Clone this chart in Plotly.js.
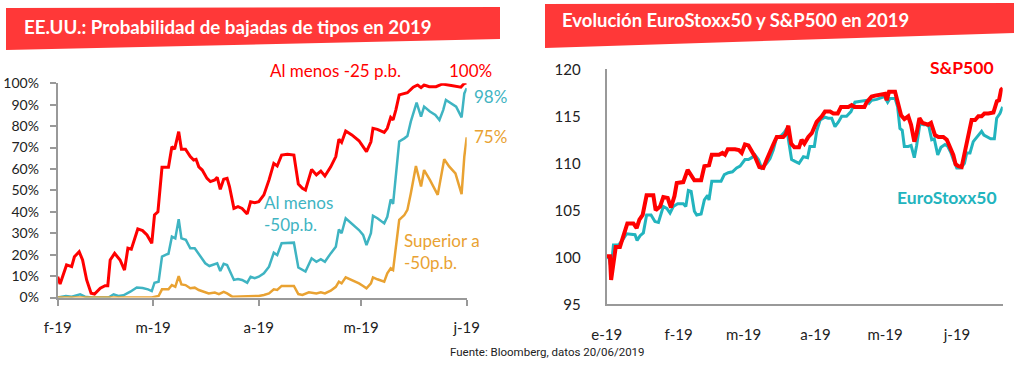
<!DOCTYPE html>
<html><head><meta charset="utf-8">
<script src="https://cdn.plot.ly/plotly-3.0.1.min.js"></script>
<style>html,body{margin:0;padding:0;background:#fff}#chart{width:1024px;height:366px}</style>
</head><body><div id="chart"></div>
<script>
// ---- Left chart: probability of Fed cuts (days since 1 Feb 2019) ----
const leftTickVals = [0, 28, 59, 89, 120];
const leftTickText = ['f-19', 'm-19', 'a-19', 'm-19', 'j-19'];
const leftYTicks = [0,10,20,30,40,50,60,70,80,90,100];
const leftYTickText = ['0%','10%','20%','30%','40%','50%','60%','70%','80%','90%','100%'];

const cut25Days = [0,0.7,2.6,4.1,4.9,6.3,7.3,8.5,9.8,10.8,12.5,13.9,14.7,15.4,16.7,18.3,19.6,20.6,21.6,23.5,24.9,26.2,27.6,28.4,29.4,30.6,32.5,33.5,34.3,35.5,36.3,37.5,38.9,39.9,40.6,41.4,42.4,43.8,44.8,46.1,46.8,47.7,48.7,49.7,50.4,51.7,52.9,54.1,55.6,56.6,57.8,59,60.5,62,63.4,64.4,65.7,67.4,69.3,70.6,71.8,72.7,74.5,75.9,77.2,78.4,80.1,81.6,82.5,83.3,84.5,86.3,88.4,89.6,90.6,91.9,92.5,93.8,95.8,96.7,97.7,98.4,99.2,100.2,101.7,102.6,104.3,105.6,106.6,107.5,109,111,112.9,114.9,116.9,118.3,119.3,120];
const cut25 = [9.7,6.3,15.2,14.4,19,21.4,17.5,8.2,2,1.6,4.3,5.5,5.5,17.5,20.6,17.5,12.8,23,22.6,32,31.2,29.2,25.3,38.5,40,60.8,60.8,70.4,69.2,77.4,69.2,69.2,65.8,64.2,64.5,61,59.5,55.6,54.1,54.9,56.1,50.5,55.2,55.6,51.8,41.6,42.4,41.6,39,44.7,44.3,44.7,47.9,54.9,62.6,61.4,66.5,66.9,66.5,53,51,50.2,59.8,57.2,59,56.7,61,65.8,73.9,72.4,77.7,75.9,73.2,70.7,68.1,72.7,79,78.5,77.1,79,84.1,82.9,87.5,94.6,95.3,95.6,98.2,99.2,98,99.2,98.4,98.4,99.7,99.2,98.8,98.2,100,100];

const cut50Days = [0,2.4,4.1,6.6,8,10,14.9,16.4,17.8,19.3,21.3,23.2,24.9,26.5,27.6,28.4,29.6,30.6,32.1,32.5,33.5,34.5,35.5,36.3,37.6,38.9,40.2,40.9,41.9,43.3,44.5,46.1,46.8,47.7,48.7,49.7,50.7,51.7,52.9,54.1,55.6,56.6,57.8,59,60.5,62,63.4,64.4,65.7,67.4,69.3,70.6,71.8,72.7,74.5,75.9,77.2,78.4,80.1,81.6,82.5,83.3,84.5,86.3,88.4,89.6,90.6,91.9,92.5,93.8,95.8,96.7,97.7,98.4,99.2,100.2,101.7,102.6,103.6,105.3,106.6,107.5,109.2,110.8,112,113.1,113.9,115.4,116.9,118.5,119.3,120];
const cut50 = [0,0.7,0.4,1.5,0.4,0,0,1.5,0.7,1,2.7,4.7,4.4,3.8,3,6.9,7.4,19.1,20.2,20.4,28.4,27.6,36.6,27.6,26.9,23,23,21.4,19.1,16,14.7,15.7,16,12.4,15.7,15.2,11.3,8.2,8.6,8.2,6.9,9.7,9,9.7,11.3,14.4,20.9,19.8,25.3,25.4,25.6,14,12.8,12.1,18.3,16.7,17.9,16.7,20.6,23.7,31.8,30,37,34.6,31.5,29.2,24.5,30,38.2,37,34.6,37.7,45.8,43.7,56.4,72.8,74.3,75.4,82.1,91,84.4,89.1,86.8,85.2,82.9,87.5,92.2,90.7,89.1,84.1,95.3,97.7];

const over50Days = [0,27.6,29.6,30.6,32.5,33.5,34.5,35.5,36.3,37.5,38.9,40.2,41.4,42.9,44.3,46.1,47.3,48.7,49.7,51.2,53.1,56.6,59,60.5,62,63.4,64.4,65.7,69.3,70.6,71.8,73.7,75.9,77.2,78.4,80.1,81.6,82.5,83.3,84.5,86.3,88.4,89.6,90.6,91.9,92.5,93.8,95.8,96.7,97.7,98.4,99.2,100.2,101.7,102.6,103.6,105.1,106.6,107.5,109.2,110.5,111.5,113.4,114.9,116.7,118.5,119.3,120];
const over50 = [0,0,0.7,3.8,3.8,5.8,5,10,6.1,5.8,4.3,4.6,3.5,2.7,1.9,2.3,1.6,2.6,1.9,0.4,0.4,0.4,0.7,1.2,1.9,3.8,3.5,5.4,5.4,1.6,1.2,2.4,1.9,2.4,1.9,3.2,5,7.4,6.6,9.4,8.2,6.6,5.4,4.3,6.6,9.4,8.5,7.4,11.3,13.6,12.8,23,36.2,38.5,40.9,48.6,61.4,51.8,59.5,54.9,51,47.9,64.5,61.1,57.9,48.3,65.8,74.8];

// ---- Right chart: EuroStoxx50 and S&P500 rebased to 100 (days since 1 Jan 2019) ----
const rightTickVals = [0, 31, 59, 90, 120, 151];
const rightTickText = ['e-19', 'f-19', 'm-19', 'a-19', 'm-19', 'j-19'];
const rightYTicks = [95, 100, 105, 110, 115, 120];

const spxDays = [0,1.4,1.9,2.9,3.9,5.7,7.2,8.9,11.5,12.9,14.1,15.5,17.2,20.1,21.1,23,24.4,26.3,27.7,29.2,30.2,33,34.9,36.4,37.8,40.7,42.1,44.1,45.3,48.4,49.9,51,52.2,55.3,57,58.2,59.6,61.1,62.5,63.9,65.8,67.5,69,70.4,71.8,73.3,76.1,77.2,78.3,79.5,80.9,82.9,84,85.2,86.9,88.4,90.5,92.7,94.1,96.3,97.7,99.6,101,104.2,105.6,106.8,109.2,111.1,112.1,114.2,115.7,117.1,118.5,120,120.7,121.7,124.3,125.4,126.9,128.3,130,131.2,132.6,133.6,134.8,136.1,137.5,138.6,139.8,140.4,141.5,143,145.1,146.6,148,149.4,150.4,151.6,153,154.5,155.6,157.3,158.8,160.2,161.6,162.8,164.5,166.7,168.2,169.1,170,170.7];
const spx = [100.1,100.1,97.6,99.5,101.1,101.1,102.2,103.6,103.6,103.1,104,104.5,106.6,106.6,105,105.4,106.4,106.3,105.3,106.5,107.9,108,109.3,108.8,108.2,108.2,109.7,109.8,110.9,110.9,111.1,110.9,111.5,111.5,111.4,111.1,112,111.9,111.3,110.7,109.6,109.5,110.4,111.1,112,112.8,112.8,113.1,114,112.1,111.7,111.7,112.5,112.1,112.8,113.2,114.4,115,115.5,115.5,115.3,115.3,116,116,116.2,116,116,116,116.5,117.1,117.2,117.3,117.4,117.4,116.7,117.6,117.6,116.4,115.1,114.7,115,114.1,112.3,113.2,114.8,114.3,114.2,114.1,114.3,113.7,113,112.8,112.8,112.5,111.6,110.9,109.9,109.7,109.6,111.4,112.5,114.6,114.6,115,115,115.3,115.3,115.4,116.6,116.7,117.8,118];

const sx5eDays = [0,1,1.9,2.9,5,6.5,8.6,10.8,12.2,13.1,14.4,15.8,17.2,19.1,20.8,22.3,24.4,25.9,27.3,28.7,30.6,33,34.1,35.2,36.4,37.8,38.8,40.7,42.1,43.5,44.1,45.3,47.4,49.3,50.7,52.4,54.2,56,57.5,59.6,61.1,62.5,63.9,65.4,66.8,69,70.4,71.8,73.3,75.1,76.6,77.6,78.6,79.7,81.2,82.9,84.8,86.6,87.6,89.5,90.5,92,94.1,95.5,97,98.4,99.9,101.3,103.4,105.3,107,109.9,112.1,113.1,114.2,116.4,118.5,119.7,121.1,122.1,124.3,125.4,126.4,127.4,128.3,130,131.2,132.6,133.6,135.1,136.5,137.9,138.9,140.1,141.2,142.7,144.1,145.8,147,148.4,149.4,150.9,152.7,154.2,155.2,156.6,158,159.8,161.6,162.6,164.1,165.5,167.1,168.1,169.5,170.7];
const sx5e = [100.1,99.9,98.8,101.3,101.3,101.7,102.5,102.4,102.4,101.8,102.3,102.6,104.5,104.5,103.8,103.7,105.4,105.2,104.7,105.4,105.7,105.7,105.4,107.1,107,104.9,104.5,104.6,106.1,106.6,106.1,108.1,108.1,108.1,108.8,109,109.1,109.5,109.7,110.4,110.4,110.6,110.9,110.4,109.5,110,110.5,111.4,112.8,112.9,113.3,113.7,112.1,110.4,110.2,110,110.7,110.6,111.8,111.8,113.4,114.6,114.9,114.8,114.8,113.9,114.4,115,115,115.5,116.5,116.6,116.7,116.4,116.7,116.8,117,117.1,116.5,116.9,116.9,116,113.7,113.5,111.8,111.8,111.9,110.6,111.9,114.3,114.1,114.1,113.9,112.5,112.6,110.9,111.7,112,111.8,111.1,110.4,109.5,109.5,110,111.1,111.1,112.3,112.8,113.4,113,112.8,112.6,112.6,114.8,115.3,116];

// ---- Layout helpers (pixel -> paper, margins are zero) ----
const W = 1024, H = 366;
const px = x => x / W;
const py = y => 1 - y / H;

const RED = '#FF0000', TEAL_L = '#3FB4C2', ORANGE = '#E9A232', TEAL_R = '#22B4BE', BANNER = '#FF3838';
const FONT = 'Lato, "Noto Sans", sans-serif';
const AXC = '#999999';

const traces = [
  {x: cut25Days, y: cut25, xaxis: 'x', yaxis: 'y', mode: 'lines', line: {color: RED, width: 3}, hoverinfo: 'skip'},
  {x: cut50Days, y: cut50, xaxis: 'x', yaxis: 'y', mode: 'lines', line: {color: TEAL_L, width: 2.5}, hoverinfo: 'skip'},
  {x: over50Days, y: over50, xaxis: 'x', yaxis: 'y', mode: 'lines', line: {color: ORANGE, width: 2.5}, hoverinfo: 'skip'},
  {x: sx5eDays, y: sx5e, xaxis: 'x2', yaxis: 'y2', mode: 'lines', line: {color: TEAL_R, width: 3}, hoverinfo: 'skip'},
  {x: spxDays, y: spx, xaxis: 'x2', yaxis: 'y2', mode: 'lines', line: {color: RED, width: 4}, hoverinfo: 'skip'}
];

function ann(text, x, y, color, size, opts) {
  return Object.assign({text: text, x: px(x), y: py(y), xref: 'paper', yref: 'paper', showarrow: false,
    font: {family: FONT, size: size, color: color}, xanchor: 'center', yanchor: 'middle'}, opts || {});
}

const layout = {
  width: W, height: H,
  margin: {l: 0, r: 0, t: 0, b: 0},
  paper_bgcolor: '#fff', plot_bgcolor: '#fff',
  showlegend: false,
  font: {family: FONT, color: '#222'},
  xaxis: {domain: [px(57.7), px(466.7)], range: [0, 120], tickvals: leftTickVals, ticktext: leftTickText,
    showgrid: false, zeroline: false, showline: true, linecolor: AXC, linewidth: 2,
    ticks: 'outside', ticklen: 6, tickwidth: 2, tickcolor: AXC, ticklabelstandoff: 9,
    tickfont: {family: FONT, size: 15, color: '#222'}, fixedrange: true},
  yaxis: {domain: [py(297.5), py(83.3)], range: [0, 100], tickvals: leftYTicks, ticktext: leftYTickText,
    showgrid: false, zeroline: false, showline: true, linecolor: AXC, linewidth: 2,
    ticks: 'outside', ticklen: 6, tickwidth: 2, tickcolor: AXC, ticklabelstandoff: 8,
    tickfont: {family: FONT, size: 14, color: '#222'}, fixedrange: true},
  xaxis2: {domain: [px(606.7), px(1002.7)], range: [0, 170.7], tickvals: rightTickVals, ticktext: rightTickText,
    anchor: 'y2', showgrid: false, zeroline: false, showline: true, linecolor: AXC, linewidth: 2,
    ticks: '', ticklabelstandoff: 16, tickfont: {family: FONT, size: 15, color: '#222'}, fixedrange: true},
  yaxis2: {domain: [py(304.3), py(69.3)], range: [95, 120], tickvals: rightYTicks, anchor: 'x2',
    showgrid: false, zeroline: false, showline: true, linecolor: AXC, linewidth: 2,
    ticks: '', ticklabelstandoff: 21, tickfont: {family: FONT, size: 15, color: '#222'}, fixedrange: true},
  shapes: [
    {type: 'path', xref: 'paper', yref: 'paper', line: {width: 0}, fillcolor: BANNER,
      path: `M ${px(6)},${py(8)} L ${px(500)},${py(7)} L ${px(500)},${py(39)} L ${px(6)},${py(50)} Z`},
    {type: 'path', xref: 'paper', yref: 'paper', line: {width: 0}, fillcolor: BANNER,
      path: `M ${px(545)},${py(4)} L ${px(1014)},${py(3)} L ${px(1014)},${py(33)} L ${px(545)},${py(48)} Z`}
  ],
  annotations: [
    ann('<b>EE.UU.: Probabilidad de bajadas de tipos en 2019</b>', 22, 27, '#fff', 18.7, {xanchor: 'left'}),
    ann('<b>Evolución EuroStoxx50 y S&amp;P500 en 2019</b>', 560, 20, '#fff', 18.5, {xanchor: 'left'}),
    ann('Al menos -25 p.b.', 335, 70, RED, 17),
    ann('100%', 470, 70, RED, 17),
    ann('98%', 490, 97, TEAL_L, 17),
    ann('75%', 490, 136, ORANGE, 17),
    ann('Al menos<br>-50p.b.', 262, 213, TEAL_L, 17, {xanchor: 'left', align: 'left'}),
    ann('Superior a<br>-50p.b.', 402, 251, ORANGE, 17, {xanchor: 'left', align: 'left'}),
    ann('<b>S&amp;P500</b>', 962, 67, RED, 17.5),
    ann('<b>EuroStoxx50</b>', 947, 197, TEAL_R, 17.5),
    ann('Fuente: Bloomberg, datos 20/06/2019', 448, 352, '#222', 11.5,
      {xanchor: 'left', font: {family: '"Liberation Sans Narrow", "Roboto", sans-serif', size: 11.5, color: '#222'}})
  ]
};

Plotly.newPlot('chart', traces, layout, {staticPlot: true, displayModeBar: false});
</script></body></html>
